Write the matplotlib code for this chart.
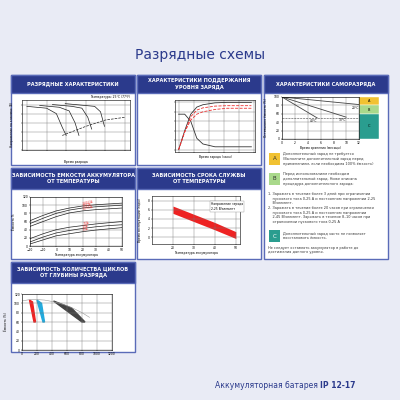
import matplotlib.pyplot as plt
from matplotlib.patches import Rectangle
import numpy as np

BG = "#e9ebf5"
NAVY = "#2b3a8c"
BORDER = "#5a6bb8"

# discharge curves (time index, voltage)
dis_t = [0, 1, 2, 3, 3.6, 4]
dis_curves = {
    "a": [12.8, 12.7, 12.6, 12.0, 10.5, 9.6],
    "b": [12.9, 12.8, 12.7, 12.3, 11.0, 9.6],
    "c": [13.0, 12.9, 12.8, 12.6, 11.6, 10.3],
    "d": [13.1, 13.0, 12.9, 12.8, 12.2, 10.6],
}
# charge characteristics (hours)
chg_h = [0, 2, 4, 6, 8, 12, 16, 20, 24]
chg_volt = [2.0, 2.15, 2.25, 2.3, 2.32, 2.34, 2.35, 2.35, 2.35]
chg_curr = [0.25, 0.25, 0.2, 0.08, 0.04, 0.02, 0.02, 0.02, 0.02]
chg_cap = [0, 40, 75, 90, 95, 99, 100, 100, 100]
# self discharge (months, %)
sd_months = {"20°C": ([0, 12], [100, 82]), "30°C": ([0, 10], [100, 52]),
             "40°C": ([0, 5.5], [100, 50])}
# capacity vs temperature
temp_c = [-20, -10, 0, 10, 20, 30, 40, 50]
cap_lines = {
    "0.05CA": [62, 75, 86, 93, 98, 101, 103, 105],
    "0.1CA": [55, 68, 80, 88, 93, 96, 98, 100],
    "0.25CA": [48, 60, 72, 81, 86, 89, 91, 93],
    "1CA": [18, 30, 40, 46, 50, 54, 57, 60],
    "2CA": [10, 22, 32, 38, 43, 47, 50, 52],
    "3CA": [5, 15, 25, 30, 35, 39, 42, 45],
}
# service life vs temperature
life_t = [20, 30, 40, 50]
life_hi = [6.8, 5.0, 3.2, 1.2]
life_lo = [5.2, 3.4, 1.6, -0.3]
# cycles vs depth
cyc = [0, 200, 400, 600, 800, 1000, 1200]

fig = plt.figure(figsize=(4, 4), dpi=100)
fig.patch.set_facecolor(BG)
fig.text(0.5, 0.862, "Разрядные схемы", ha="center", va="center", fontsize=10, color=NAVY)
fig.text(0.8, 0.037, "Аккумуляторная батарея ", ha="right", va="center", fontsize=5.5, color=NAVY)
fig.text(0.8, 0.037, "IP 12-17", ha="left", va="center", fontsize=5.5, color=NAVY, fontweight="bold")


def panel(x0, y0, x1, y1, title, hh=18):
    W, H = 400, 400
    fig.patches.append(Rectangle((x0 / W, 1 - y1 / H), (x1 - x0) / W, (y1 - y0) / H,
                                 transform=fig.transFigure, fc="white", ec=BORDER, lw=1, zorder=-2))
    fig.patches.append(Rectangle((x0 / W, 1 - (y0 + hh) / H), (x1 - x0) / W, hh / H,
                                 transform=fig.transFigure, fc=NAVY, ec=BORDER, lw=1, zorder=-1))
    fig.text((x0 + x1) / 2 / W, 1 - (y0 + hh / 2) / H, title, ha="center", va="center",
             fontsize=3.6, color="white", fontweight="bold", linespacing=1.4)


def inner(x0, y0, x1, y1):
    ax = fig.add_axes([x0 / 400, 1 - y1 / 400, (x1 - x0) / 400, (y1 - y0) / 400])
    ax.tick_params(labelsize=2.2, length=1, width=0.3, pad=0.5)
    for s in ax.spines.values():
        s.set_linewidth(0.4)
    ax.grid(color="#777", lw=0.3)
    return ax


panel(11, 75, 135, 165, "РАЗРЯДНЫЕ ХАРАКТЕРИСТИКИ")
ax = inner(22, 100, 130, 150)
for i, v in enumerate(dis_curves.values()):
    t = np.array(dis_t) + i * 1.3
    ax.plot(t, v, color="#222", lw=0.5)
ax.plot([3.6, 6, 8, 10], [9.6, 10.6, 11.3, 11.6], "--", color="#222", lw=0.5)
ax.set_ylim(8, 13.5)
ax.set_xticklabels([])
ax.set_yticklabels([])
ax.set_xlabel("Время разряда", fontsize=2.2, labelpad=6)
ax.set_ylabel("Напряжение на клеммах (В)", fontsize=2.2)
ax.text(1, 1.04, "Температура: 25°C (77°F)", transform=ax.transAxes, ha="right", fontsize=2.2)

panel(137, 75, 261, 165, "ХАРАКТЕРИСТИКИ ПОДДЕРЖАНИЯ\nУРОВНЯ ЗАРЯДА")
ax = inner(175, 100, 255, 152)
ax.plot(chg_h, chg_cap, color="#333", lw=0.6)
ax.plot(chg_h, np.array(chg_curr) * 300, color="#333", lw=0.6)
ax.plot(chg_h, (np.array(chg_volt) - 2) * 250, color="#e33", lw=0.6, ls="--")
ax.plot(chg_h, np.array(chg_cap) * 0.93, color="#e33", lw=0.6, ls="--")
ax.set_xticklabels([])
ax.set_yticklabels([])
ax.set_xlabel("Время заряда (часы)", fontsize=2.2, labelpad=1)

panel(264, 75, 388, 259, "ХАРАКТЕРИСТИКИ САМОРАЗРЯДА")
ax = inner(282, 97, 359, 139)
for lab, (m, p) in sd_months.items():
    ax.plot(m, p, color="#444", lw=0.6)
    ax.text(m[1] - 1.2, p[1] - 10, lab, fontsize=2.2)
ax.axhline(50, color="#444", ls="--", lw=0.4)
ax.set_xlim(0, 12)
ax.set_ylim(0, 100)
ax.set_xticks([0, 2, 4, 6, 8, 10, 12])
ax.set_ylabel("Оставшаяся ёмкость (%)", fontsize=2.2)
ax.set_xlabel("Время хранения (месяцы)", fontsize=2.2, labelpad=1)
for lab, lo, hi, c in [("A", 80, 100, "#f1c232"), ("B", 60, 80, "#a9d98b"), ("C", 0, 60, "#2a9d8f")]:
    ax.add_patch(Rectangle((1.005, lo / 100), 0.25, (hi - lo) / 100, transform=ax.transAxes,
                           fc=c, ec="white", lw=0.3, clip_on=False))
    ax.text(1.13, (lo + hi) / 200, lab, transform=ax.transAxes, fontsize=2.5, ha="center", va="center")
notes = [
    ("A", "#f1c232", 159, "Дополнительный заряд не требуется\n(Выполните дополнительный заряд перед\nприменением, если необходима 100% ёмкость)"),
    ("B", "#a9d98b", 179, "Перед использованием необходим\nдополнительный заряд. Ниже описана\nпроцедура дополнительного заряда:"),
    ("C", "#2a9d8f", 236, "Дополнительный заряд часто не позволяет\nвосстановить ёмкость."),
]
for lab, c, y, txt in notes:
    fig.patches.append(Rectangle((269 / 400, 1 - (y + 6) / 400), 11 / 400, 12 / 400,
                                 transform=fig.transFigure, fc=c, ec="none"))
    fig.text(274.5 / 400, 1 - y / 400, lab, fontsize=4, ha="center", va="center",
             color="white" if lab == "C" else "#333")
    fig.text(283 / 400, 1 - y / 400, txt, fontsize=2.5, va="center", color="#333")
fig.text(268 / 400, 1 - 208 / 400,
         "1. Заряжать в течение более 3 дней при ограничении\n    пускового тока 0,25 А и постоянном напряжении 2,25\n    В/элемент.\n"
         "2. Заряжать в течение более 20 часов при ограничении\n    пускового тока 0,25 А и постоянном напряжении\n    2,45 В/элемент. Заряжать в течение 8–10 часов при\n    ограничении пускового тока 0,25 А",
         fontsize=2.5, va="center", color="#333")
fig.text(268 / 400, 1 - 250 / 400, "Не следует оставлять аккумулятор в работе до\nдостижения данного уровня.",
         fontsize=2.5, va="center", color="#333")

panel(11, 168, 135, 259, "ЗАВИСИМОСТЬ ЕМКОСТИ АККУМУЛЯТОРА\nОТ ТЕМПЕРАТУРЫ", hh=21)
ax = inner(30, 197, 122, 246)
for lab, v in cap_lines.items():
    ax.plot(temp_c, v, color="#222", lw=0.5)
    ax.text(temp_c[4], v[4] + 2, lab, fontsize=2.2, color="#e33", rotation=12)
ax.set_xlim(-20, 50)
ax.set_ylim(0, 120)
ax.set_ylabel("Ёмкость %", fontsize=2.2)
ax.set_xlabel("Температура аккумулятора", fontsize=2.2, labelpad=1)

panel(137, 168, 261, 259, "ЗАВИСИМОСТЬ СРОКА СЛУЖБЫ\nОТ ТЕМПЕРАТУРЫ", hh=21)
ax = inner(152, 196, 240, 244)
ax.fill_between(life_t, life_lo, life_hi, color="#ee2222", lw=0)
ax.set_xlim(10, 52)
ax.set_ylim(-1.5, 9)
ax.set_xticks(life_t)
ax.set_ylabel("Время эксплуатации (годы)", fontsize=2.2)
ax.set_xlabel("Температура аккумулятора", fontsize=2.2, labelpad=1)
ax.text(38, 6, "Напряжение заряда\n2,25 В/элемент", fontsize=2.2,
        bbox=dict(fc="white", ec="#999", lw=0.3, pad=0.8))

panel(11, 262, 135, 352, "ЗАВИСИМОСТЬ КОЛИЧЕСТВА ЦИКЛОВ\nОТ ГЛУБИНЫ РАЗРЯДА", hh=21)
ax = inner(22, 294, 112, 350)
x = np.array([0, 100, 200, 300, 400, 500, 600, 700, 800, 900])
ax.plot(x, [105, 108, 108, 107, 104, 100, 95, 88, 80, 70], color="#999", lw=0.4)
ax.fill([100, 140, 180, 160], [107, 103, 60, 60], color="#ee2222")
ax.fill([200, 260, 300, 280], [107, 100, 60, 60], color="#22aadd")
ax.fill([420, 660, 840, 800], [105, 90, 60, 60], color="#444")
ax.set_xlim(0, 1200)
ax.set_ylim(0, 120)
ax.set_xticks(cyc)
ax.set_ylabel("Ёмкость (%)", fontsize=2.2)

fig.savefig("out.png", dpi=100, facecolor=BG)
